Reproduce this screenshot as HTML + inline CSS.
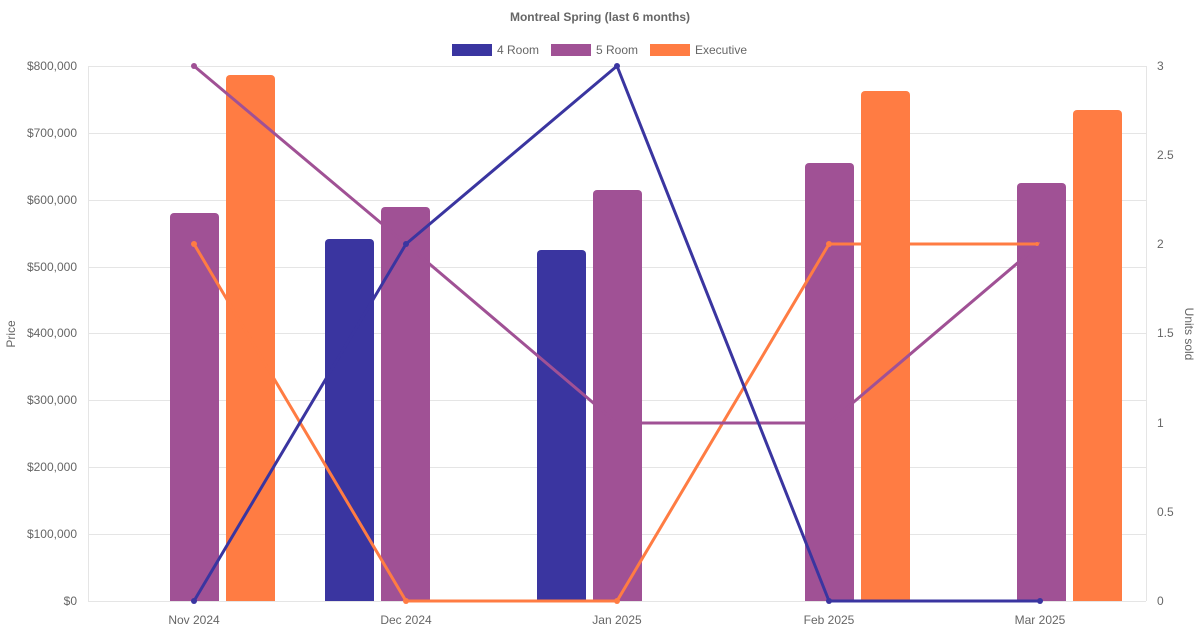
<!DOCTYPE html>
<html><head><meta charset="utf-8"><style>
html,body{margin:0;padding:0;background:#fff;}
svg{display:block;font-family:"Liberation Sans",Arial,sans-serif;}
</style></head><body>
<svg width="1200" height="630" viewBox="0 0 1200 630">
<text x="600" y="21" text-anchor="middle" font-size="12" font-weight="bold" fill="#666">Montreal Spring (last 6 months)</text>
<!-- legend -->
<rect x="452" y="44" width="40" height="12" fill="#3a35a0"/><text x="497" y="54" font-size="12" fill="#666">4 Room</text>
<rect x="551" y="44" width="40" height="12" fill="#a05195"/><text x="596" y="54" font-size="12" fill="#666">5 Room</text>
<rect x="650" y="44" width="40" height="12" fill="#ff7c43"/><text x="695" y="54" font-size="12" fill="#666">Executive</text>
<!-- grid -->
<g stroke="#e5e5e5" stroke-width="1">
<line x1="88" y1="66.5" x2="1146" y2="66.5"/><line x1="88" y1="133.5" x2="1146" y2="133.5"/>
<line x1="88" y1="200.5" x2="1146" y2="200.5"/><line x1="88" y1="267.5" x2="1146" y2="267.5"/>
<line x1="88" y1="333.5" x2="1146" y2="333.5"/><line x1="88" y1="400.5" x2="1146" y2="400.5"/>
<line x1="88" y1="467.5" x2="1146" y2="467.5"/><line x1="88" y1="534.5" x2="1146" y2="534.5"/>
<line x1="88" y1="601.5" x2="1146" y2="601.5"/>
<line x1="88.5" y1="66" x2="88.5" y2="601"/><line x1="1146.5" y1="66" x2="1146.5" y2="601"/>
</g>
<g font-size="12" fill="#666" text-anchor="end">
<text x="77" y="70">$800,000</text><text x="77" y="137">$700,000</text><text x="77" y="204">$600,000</text>
<text x="77" y="271">$500,000</text><text x="77" y="337">$400,000</text><text x="77" y="404">$300,000</text>
<text x="77" y="471">$200,000</text><text x="77" y="538">$100,000</text><text x="77" y="605">$0</text>
</g>
<g font-size="12" fill="#666">
<text x="1157" y="70">3</text><text x="1157" y="159">2.5</text><text x="1157" y="248">2</text>
<text x="1157" y="337">1.5</text><text x="1157" y="427">1</text><text x="1157" y="516">0.5</text><text x="1157" y="605">0</text>
</g>
<g font-size="12" fill="#666" text-anchor="middle">
<text x="194" y="624">Nov 2024</text><text x="406" y="624">Dec 2024</text><text x="617" y="624">Jan 2025</text>
<text x="829" y="624">Feb 2025</text><text x="1040" y="624">Mar 2025</text>
</g>
<text transform="translate(15,334) rotate(-90)" font-size="12" fill="#666" text-anchor="middle">Price</text>
<text transform="translate(1185,334) rotate(90)" font-size="12" fill="#666" text-anchor="middle">Units sold</text>
<!-- bars -->
<g fill="#3a35a0">
<path d="M325,601V243a4,4 0 0 1 4,-4h41a4,4 0 0 1 4,4V601z"/>
<path d="M537,601V254a4,4 0 0 1 4,-4h41a4,4 0 0 1 4,4V601z"/>
</g>
<g fill="#a05195">
<path d="M170,601V217a4,4 0 0 1 4,-4h41a4,4 0 0 1 4,4V601z"/>
<path d="M381,601V211a4,4 0 0 1 4,-4h41a4,4 0 0 1 4,4V601z"/>
<path d="M593,601V194a4,4 0 0 1 4,-4h41a4,4 0 0 1 4,4V601z"/>
<path d="M805,601V167a4,4 0 0 1 4,-4h41a4,4 0 0 1 4,4V601z"/>
<path d="M1017,601V187a4,4 0 0 1 4,-4h41a4,4 0 0 1 4,4V601z"/>
</g>
<g fill="#ff7c43">
<path d="M226,601V79a4,4 0 0 1 4,-4h41a4,4 0 0 1 4,4V601z"/>
<path d="M861,601V95a4,4 0 0 1 4,-4h41a4,4 0 0 1 4,4V601z"/>
<path d="M1073,601V114a4,4 0 0 1 4,-4h41a4,4 0 0 1 4,4V601z"/>
</g>
<!-- lines -->
<g fill="none" stroke-width="3" stroke-linejoin="round">
<polyline stroke="#ff7c43" points="194,244 406,601 617,601 829,244 1040,244"/>
<polyline stroke="#a05195" points="194,66 406,244 617,423 829,423 1040,244"/>
<polyline stroke="#3a35a0" points="194,601 406,244 617,66 829,601 1040,601"/>
</g>
<g fill="#ff7c43"><circle cx="194" cy="244" r="3"/><circle cx="406" cy="601" r="3"/><circle cx="617" cy="601" r="3"/><circle cx="829" cy="244" r="3"/><circle cx="1037" cy="244" r="2"/></g>
<g fill="#a05195"><circle cx="194" cy="66" r="3"/></g>
<g fill="#3a35a0"><circle cx="194" cy="601" r="3"/><circle cx="406" cy="244" r="3"/><circle cx="617" cy="66" r="3"/><circle cx="829" cy="601" r="3"/><circle cx="1040" cy="601" r="3"/></g>
</svg>
</body></html>
